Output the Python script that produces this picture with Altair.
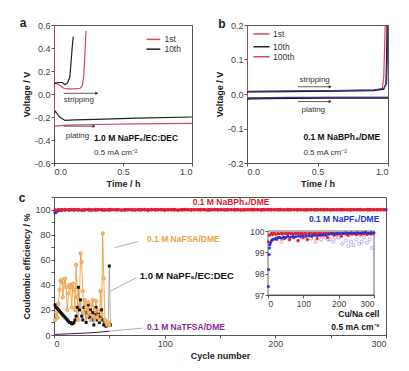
import altair as alt
import pandas as pd

FONT = "Liberation Sans"

# ---------------- panel a : 1.0 M NaPF6/EC:DEC ----------------
a_series = ["1st", "10th"]
a_colors = ["#d9475a", "#222222"]
a_plate_1st_t = [0.0, 0.0, 0.05, 0.1, 0.3, 0.6, 1.0]
a_plate_1st_v = [0.6, -0.28, -0.275, -0.27, -0.265, -0.26, -0.255]
a_strip_1st_t = [0.0, 0.02, 0.05, 0.07, 0.1, 0.15, 0.19, 0.205, 0.215, 0.222, 0.228, 0.232]
a_strip_1st_v = [0.1, 0.09, 0.07, 0.05, 0.045, 0.045, 0.05, 0.07, 0.15, 0.3, 0.45, 0.55]
a_plate_10th_t = [0.0, 0.01, 0.04, 0.08, 0.15, 0.3, 0.6, 1.0]
a_plate_10th_v = [-0.17, -0.15, -0.2, -0.23, -0.225, -0.22, -0.21, -0.2]
a_strip_10th_t = [0.0, 0.03, 0.06, 0.08, 0.1, 0.115, 0.125, 0.135, 0.14]
a_strip_10th_v = [0.09, 0.1, 0.1, 0.08, 0.1, 0.15, 0.3, 0.45, 0.5]
a_xticks = [0.0, 0.5, 1.0]
a_yticks = [-0.6, -0.4, -0.2, 0.0, 0.2, 0.4, 0.6]
a_leg_y = [0.475, 0.39]
a_arrow_x1 = [0.07, 0.07]
a_arrow_x2 = [0.31, 0.29]
a_arrow_y = [0.006, -0.28]
a_arrow_text = ["stripping", "plating"]
a_arrow_text_x = [0.18, 0.17]
a_arrow_text_y = [-0.05, -0.365]
a_note = ["1.0 M NaPF\u2086/EC:DEC", "0.5 mA cm\u207b\u00b2"]
a_note_y = [-0.385, -0.51]

# ---------------- panel b : 0.1 M NaBPh4/DME ----------------
b_series = ["1st", "10th", "100th"]
b_colors = ["#e8404f", "#111111", "#3a3a8c"]
b_plate_1st_t = [0.0, 0.0, 0.01, 0.3, 0.6, 1.0]
b_plate_1st_v = [0.2, -0.008, -0.012, -0.011, -0.01, -0.01]
b_strip_1st_t = [0.0, 0.3, 0.6, 0.9, 0.96, 0.97, 0.975, 0.98]
b_strip_1st_v = [0.007, 0.008, 0.009, 0.011, 0.015, 0.05, 0.12, 0.2]
b_plate_10th_t = [0.0, 0.02, 0.3, 0.6, 1.0]
b_plate_10th_v = [-0.016, -0.014, -0.013, -0.012, -0.012]
b_strip_10th_t = [0.0, 0.3, 0.6, 0.9, 0.97, 0.985, 0.99, 0.993]
b_strip_10th_v = [0.006, 0.007, 0.008, 0.01, 0.014, 0.03, 0.1, 0.2]
b_plate_100th_t = [0.0, 0.02, 0.3, 0.6, 1.0]
b_plate_100th_v = [-0.012, -0.011, -0.01, -0.01, -0.01]
b_strip_100th_t = [0.0, 0.3, 0.6, 0.9, 0.97, 0.99, 0.995, 0.998]
b_strip_100th_v = [0.008, 0.009, 0.01, 0.012, 0.016, 0.03, 0.1, 0.2]
b_xticks = [0.0, 0.5, 1.0]
b_yticks = [-0.2, -0.1, 0.0, 0.1, 0.2]
b_leg_y = [0.174, 0.137, 0.108]
b_arrow_y = [0.021, -0.022]
b_arrow_text = ["stripping", "plating"]
b_arrow_text_y = [0.04, -0.046]
b_note = ["0.1 M NaBPh\u2084/DME", "0.5 mA cm\u207b\u00b2"]
b_note_y = [-0.124, -0.171]

# ---------------- panel c : Coulombic efficiency ----------------
c_red_cycle = list(range(1, 300, 3))
c_red_ce = [99.5, 99.8, 99.85, 99.9, 99.82, 99.88, 99.9, 99.85, 99.6, 99.9,
            99.87, 99.7, 99.9, 99.86, 99.9, 99.65, 99.88, 99.9, 99.84, 99.9,
            99.6, 99.88, 99.9, 99.86, 99.7, 99.9, 99.87, 99.9, 99.55, 99.88,
            99.9, 99.85, 99.9, 99.7, 99.88, 99.9, 99.86, 99.6, 99.9, 99.88,
            99.9, 99.75, 99.87, 99.9, 99.85, 99.9, 99.65, 99.88, 99.9, 99.86,
            99.9, 99.8, 99.88, 99.9, 99.85, 99.9, 99.7, 99.9, 99.88, 99.9,
            99.86, 99.9, 99.8, 99.88, 99.9, 99.85, 99.9, 99.87, 99.9, 99.75,
            99.9, 99.88, 99.9, 99.86, 99.9, 99.8, 99.9, 99.88, 99.9, 99.85,
            99.9, 99.87, 99.9, 99.82, 99.9, 99.88, 99.9, 99.85, 99.9, 99.86,
            99.9, 99.88, 99.9, 99.84, 99.9, 99.87, 99.9, 99.85, 99.9, 99.88]
c_red_open_cycle = [12, 25, 38, 47, 60, 72, 85, 95, 110, 122, 135, 150, 162, 175, 190, 205, 230, 260]
c_red_open_ce = [99.6, 99.7, 99.5, 99.65, 99.6, 99.7, 99.55, 99.7, 99.6, 99.65, 99.5, 99.6, 99.7, 99.6, 99.7, 99.75, 99.8, 99.8]
c_blue_cycle = [1, 2, 3, 4, 5, 7, 10, 14, 18, 22, 27, 32, 38, 44, 50, 57, 64, 71, 78, 85, 92, 100, 108, 116,
                124, 132, 140, 148, 156, 164, 172, 180, 188, 196, 204, 212, 220, 228, 236, 244, 252, 260,
                268, 276, 284, 292, 300]
c_blue_ce = [97.4, 98.2, 98.9, 99.2, 99.35, 99.45, 99.55, 99.6, 99.62, 99.65, 99.68, 99.7, 99.66, 99.72,
             99.7, 99.74, 99.72, 99.75, 99.73, 99.76, 99.74, 99.77, 99.75, 99.78, 99.76, 99.8, 99.78, 99.8,
             99.82, 99.8, 99.85, 99.88, 99.86, 99.9, 99.88, 99.9, 99.92, 99.9, 99.92, 99.9, 99.93, 99.9,
             99.92, 99.94, 99.9, 99.93, 99.92]
c_blue_open_cycle = [170, 185, 200, 210, 220, 228, 235, 242, 250, 258, 265, 272, 280, 288, 295]
c_blue_open_ce = [99.6, 99.5, 99.7, 99.4, 99.55, 99.3, 99.5, 99.35, 99.6, 99.4, 99.5, 99.7, 99.45, 99.6, 99.2]
c_orange_cycle = list(range(1, 51))
c_orange_ce = [12, 18, 14, 25, 36, 43, 44, 30, 41, 45, 38, 20, 33, 40, 38, 22, 41, 36, 20, 56,
               30, 12, 25, 65, 58, 35, 18, 28, 22, 15, 26, 18, 12, 24, 28, 15, 20, 27, 14, 19,
               12, 35, 16, 81, 45, 12, 10, 8, 10, 8]
c_black_cycle = list(range(1, 52))
c_black_ce = [24, 22, 21, 20, 19, 18, 17, 16, 15, 14, 13, 12, 11, 10, 10, 9, 9, 10, 12, 15,
              22, 38, 20, 28, 15, 12, 22, 18, 10, 15, 24, 14, 20, 12, 18, 8, 16, 22, 12, 18,
              10, 15, 20, 12, 8, 10, 7, 9, 8, 55, 8]
c_purple_cycle = [1, 10, 20, 30, 40, 50]
c_purple_ce = [0.5, 0.8, 1.2, 1.6, 2.2, 3.0]
c_call_x1 = [55, 51, 50]
c_call_y1 = [69.7, 35, 3]
c_call_x2 = [76, 74.5, 80]
c_call_y2 = [74.5, 45.6, 5.5]
c_xticks = [0, 50, 100, 150, 200, 250, 300]
c_yticks = [0, 10, 20, 30, 40, 50, 60, 70, 80, 90, 100, 110]
inset_xticks = [0, 100, 200, 300]
inset_yticks = [97, 98, 99, 100]

C_RED, C_BLUE, C_ORANGE, C_BLACK = "#e02030", "#2233dd", "#f0a040", "#111111"

MINUS = "replace(datum.label, '\u2212', '-')"


def curves(items):
    rows = []
    for name, seg, ts, vs in items:
        for i, (t, v) in enumerate(zip(ts, vs)):
            rows.append(dict(series=name, seg=seg, i=i, t=t, v=v))
    return pd.DataFrame(rows)


def letter(ch, dx, dy):
    return alt.Chart(pd.DataFrame({"s": [ch]})).mark_text(
        font=FONT, fontSize=12, fontWeight="bold", align="center", baseline="middle", color="#222"
    ).encode(text="s:N", x=alt.value(dx), y=alt.value(dy))


def voltage_panel(df, series, colors, xticks, yticks, ydom, leg_x, leg_y, arrows, arrow_texts, notes, let, ytitle):
    xs = alt.Scale(domain=[0, 1], nice=False)
    ys = alt.Scale(domain=ydom, nice=False)
    xax = alt.Axis(values=xticks, format=".1f", title="Time / h")
    yax = alt.Axis(values=yticks, format=".1f", title=ytitle, labelExpr=MINUS)

    def X(f="t"):
        return alt.X(f + ":Q", scale=xs, axis=xax)

    def Y(f="v"):
        return alt.Y(f + ":Q", scale=ys, axis=yax)

    layers = []
    for name, col in zip(series, colors):
        layers.append(alt.Chart(df[df["series"] == name]).mark_line(clip=True, strokeWidth=1.2, color=col).encode(
            x=X(), y=Y(), detail="seg:N", order="i:Q"))
    cscale = alt.Scale(domain=series, range=colors)
    leg = pd.DataFrame({"series": series, "t": [leg_x[0]] * len(series), "t2": [leg_x[1]] * len(series),
                        "tt": [leg_x[2]] * len(series), "v": leg_y})
    leg_lines = alt.Chart(leg).mark_rule(strokeWidth=1.5).encode(
        x=X(), x2="t2:Q", y=Y(), color=alt.Color("series:N", scale=cscale, legend=None))
    leg_text = alt.Chart(leg).mark_text(font=FONT, fontSize=8.5, align="left", baseline="middle", color="#333").encode(
        x=X("tt"), y=Y(), text="series:N")
    arr = alt.Chart(arrows).mark_rule(color="#333", strokeWidth=0.8).encode(x=X(), x2="t2:Q", y=Y())
    heads = alt.Chart(arrows).mark_point(shape="triangle-right", filled=True, color="#333", size=12, opacity=1).encode(
        x=X("t2"), y=Y())
    atext = alt.Chart(arrow_texts).mark_text(font=FONT, fontSize=8, align="center", baseline="middle", color="#333").encode(
        x=X(), y=Y(), text="s:N")
    n1 = alt.Chart(notes.iloc[[0]]).mark_text(font=FONT, fontSize=8.5, fontWeight="bold", align="left",
                                             baseline="middle", color="#111").encode(x=X(), y=Y(), text="s:N")
    n2 = alt.Chart(notes.iloc[[1]]).mark_text(font=FONT, fontSize=8, align="left",
                                             baseline="middle", color="#333").encode(x=X(), y=Y(), text="s:N")
    return alt.layer(*layers, leg_lines, leg_text, arr, heads, atext, n1, n2, let)


a_df = curves([
    ("1st", "1p", a_plate_1st_t, a_plate_1st_v), ("1st", "1s", a_strip_1st_t, a_strip_1st_v),
    ("10th", "10p", a_plate_10th_t, a_plate_10th_v), ("10th", "10s", a_strip_10th_t, a_strip_10th_v)])
a_chart = voltage_panel(
    a_df, a_series, a_colors, a_xticks, a_yticks, [-0.6, 0.6], [0.67, 0.77, 0.8], a_leg_y,
    pd.DataFrame({"t": a_arrow_x1, "t2": a_arrow_x2, "v": a_arrow_y}),
    pd.DataFrame({"t": a_arrow_text_x, "v": a_arrow_text_y, "s": a_arrow_text}),
    pd.DataFrame({"t": [0.29, 0.29], "v": a_note_y, "s": a_note}),
    letter("a", -31, -2), "Voltage / V").properties(width=138, height=138)

b_df = curves([
    ("1st", "1p", b_plate_1st_t, b_plate_1st_v), ("1st", "1s", b_strip_1st_t, b_strip_1st_v),
    ("10th", "10p", b_plate_10th_t, b_plate_10th_v), ("10th", "10s", b_strip_10th_t, b_strip_10th_v),
    ("100th", "100p", b_plate_100th_t, b_plate_100th_v), ("100th", "100s", b_strip_100th_t, b_strip_100th_v)])
b_chart = voltage_panel(
    b_df, b_series, b_colors, b_xticks, b_yticks, [-0.2, 0.2], [0.045, 0.16, 0.185], b_leg_y,
    pd.DataFrame({"t": [0.36, 0.36], "t2": [0.59, 0.59], "v": b_arrow_y}),
    pd.DataFrame({"t": [0.48, 0.47], "v": b_arrow_text_y, "s": b_arrow_text}),
    pd.DataFrame({"t": [0.4, 0.4], "v": b_note_y, "s": b_note}),
    letter("b", -25, -1), "Voltage / V").properties(width=141, height=138)

# ---- panel c main ----
cxs = alt.Scale(domain=[0, 300], nice=False)
cys = alt.Scale(domain=[0, 110], nice=False)
cxax = alt.Axis(values=c_xticks, title="Cycle number", labelExpr="datum.value % 100 == 0 ? datum.label : ''")
cyax = alt.Axis(values=c_yticks, title="Coulombic efficiency / %",
                labelExpr="(datum.value % 20 == 0 && datum.value <= 100) ? datum.label : ''")


def CX(f="cycle"):
    return alt.X(f + ":Q", scale=cxs, axis=cxax)


def CY(f="ce"):
    return alt.Y(f + ":Q", scale=cys, axis=cyax)


red_df = pd.DataFrame({"cycle": c_red_cycle, "ce": c_red_ce})
blue_df = pd.DataFrame({"cycle": c_blue_cycle, "ce": c_blue_ce})
orange_df = pd.DataFrame({"cycle": c_orange_cycle, "ce": c_orange_ce})
black_df = pd.DataFrame({"cycle": c_black_cycle, "ce": c_black_ce})
purple_df = pd.DataFrame({"cycle": c_purple_cycle, "ce": c_purple_ce})
call_df = pd.DataFrame({"cycle": c_call_x1, "ce": c_call_y1, "c2": c_call_x2, "e2": c_call_y2})

main_layers = [
    alt.Chart(call_df).mark_rule(color="#999", strokeWidth=0.8).encode(x=CX(), y=CY(), x2="c2:Q", y2="e2:Q"),
    alt.Chart(purple_df).mark_line(color="#3a1a40", strokeWidth=1).encode(x=CX(), y=CY()),
    alt.Chart(black_df).mark_line(color="#999", strokeWidth=0.8).encode(x=CX(), y=CY()),
    alt.Chart(orange_df).mark_line(color=C_ORANGE, strokeWidth=0.9).encode(x=CX(), y=CY()),
    alt.Chart(black_df).mark_point(shape="square", filled=True, color=C_BLACK, size=9, opacity=1).encode(x=CX(), y=CY()),
    alt.Chart(orange_df).mark_point(shape="circle", filled=True, color="#f4c080", stroke="#e08a20",
                                    strokeWidth=0.6, size=12, opacity=1).encode(x=CX(), y=CY()),
    alt.Chart(blue_df).mark_point(shape="circle", filled=True, color=C_BLUE, size=12, opacity=1).encode(x=CX(), y=CY()),
    alt.Chart(red_df).mark_line(color=C_RED, strokeWidth=2.5).encode(x=CX(), y=CY()),
    alt.Chart(red_df).mark_point(shape="circle", filled=True, color=C_RED, size=14, opacity=1).encode(x=CX(), y=CY()),
]

c_labels = [
    ("0.1 M NaBPh\u2084/DME", 160, 106, "center", C_RED, 8.5),
    ("0.1 M NaPF\u2086/DME", 294, 92.5, "right", C_BLUE, 8.5),
    ("0.1 M NaFSA/DME", 84, 76.3, "left", C_ORANGE, 8.5),
    ("1.0 M NaPF\u2086/EC:DEC", 77.5, 47, "left", C_BLACK, 9.5),
    ("0.1 M NaTFSA/DME", 84, 6.1, "left", "#8a2a9a", 8.5),
    ("Cu/Na cell", 294, 17, "right", "#111111", 8.5),
    ("0.5 mA cm\u207b\u00b2", 294, 6, "right", "#111111", 8.5),
]
for txt, cx, cy, al, col, fs in c_labels:
    main_layers.append(
        alt.Chart(pd.DataFrame({"cycle": [cx], "ce": [cy], "s": [txt]})).mark_text(
            font=FONT, fontSize=fs, fontWeight="bold", align=al, baseline="middle", color=col
        ).encode(x=CX(), y=CY(), text="s:N"))
main_layers.append(letter("c", -32, 1))
c_main = alt.layer(*main_layers)

# ---- panel c inset ----
ixs = alt.Scale(domain=[0, 300], nice=False, range=[214, 320])
iys = alt.Scale(domain=[97, 100], nice=False, range=[98, 34])
ixax = alt.Axis(values=inset_xticks, orient="bottom", offset=-40, title=None, labelFontSize=8.5)
iyax = alt.Axis(values=inset_yticks, orient="left", offset=-214, title=None, labelFontSize=8.5)


def IX(f="cycle"):
    return alt.X(f + ":Q", scale=ixs, axis=ixax)


def IY(f="ce"):
    return alt.Y(f + ":Q", scale=iys, axis=iyax)


frame_df = pd.DataFrame({"cycle": [0], "c2": [300], "ce": [97], "e2": [100]})
inset_layers = [
    alt.Chart(frame_df).mark_rect(fill="white", stroke="#444", strokeWidth=0.8).encode(
        x=IX(), x2="c2:Q", y=IY(), y2="e2:Q"),
    alt.Chart(pd.DataFrame({"cycle": c_red_open_cycle, "ce": c_red_open_ce})).mark_point(
        shape="circle", filled=False, color="#f08080", size=10, strokeWidth=0.8, opacity=1).encode(x=IX(), y=IY()),
    alt.Chart(pd.DataFrame({"cycle": c_blue_open_cycle, "ce": c_blue_open_ce})).mark_point(
        shape="circle", filled=False, color="#9090f0", size=10, strokeWidth=0.7, opacity=1).encode(x=IX(), y=IY()),
    alt.Chart(red_df).mark_point(shape="circle", filled=True, color=C_RED, size=9, opacity=1).encode(x=IX(), y=IY()),
    alt.Chart(blue_df).mark_point(shape="circle", filled=True, color=C_BLUE, size=9, opacity=1).encode(x=IX(), y=IY()),
]
c_inset = alt.layer(*inset_layers)

c_chart = alt.layer(c_main, c_inset).resolve_scale(x="independent", y="independent").resolve_axis(
    x="independent", y="independent").properties(width=332, height=138)

top = alt.hconcat(a_chart, b_chart, spacing=21)
chart = alt.vconcat(top, c_chart, spacing=2).properties(
    padding={"left": 10, "top": 8, "right": 5, "bottom": 2}
).configure(font=FONT).configure_view(stroke="#555", strokeWidth=1).configure_axis(
    grid=False, labelFont=FONT, labelFontSize=9, labelColor="#444", titleFont=FONT, titleFontSize=9,
    titleFontWeight="bold", titleColor="#222", domainColor="#555", tickColor="#555", tickSize=3,
    labelPadding=1, titlePadding=3)

chart.save("out.html", embed_options={"renderer": "svg", "actions": False})
